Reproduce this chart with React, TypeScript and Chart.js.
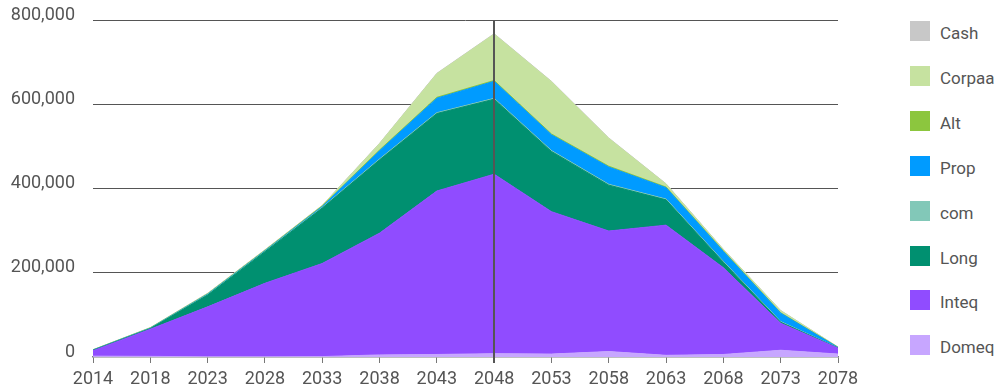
import { useEffect, useRef } from "react";
import { Chart, registerables } from "chart.js";

Chart.register(...registerables);

const years = ["2014", "2018", "2023", "2028", "2033", "2038", "2043", "2048", "2053", "2058", "2063", "2068", "2073", "2078"];

const domeq = [2000, 1500, 500, 500, 1000, 5000, 6000, 8000, 7000, 13000, 4000, 6000, 16000, 7000];
const inteq = [13000, 64500, 118500, 174500, 221000, 289000, 388000, 426000, 338000, 286000, 309000, 206000, 64000, 14000];
const longData = [1000, 1500, 28000, 75000, 131500, 174000, 184000, 178000, 143000, 109000, 60000, 13000, 2500, 500];
const com = [300, 500, 1000, 1000, 1500, 2000, 2000, 2000, 2000, 2000, 2000, 2000, 1500, 500];
const prop = [300, 500, 1000, 1000, 2000, 19500, 34500, 40500, 37500, 41000, 27000, 23500, 20000, 500];
const alt = [300, 500, 800, 1000, 1500, 2000, 2000, 2000, 2000, 2000, 1500, 1500, 1000, 500];
const corpaa = [300, 500, 1000, 1000, 1000, 15000, 56000, 110000, 124000, 66000, 7000, 3000, 5000, 500];
const cash = [200, 300, 500, 500, 500, 800, 1000, 1000, 1000, 1000, 800, 800, 500, 300];

const yTicks = [0, 200000, 400000, 600000, 800000];

const seriesNames = ["Domeq", "Inteq", "Long", "com", "Prop", "Alt", "Corpaa", "Cash"];
const seriesValues = [domeq, inteq, longData, com, prop, alt, corpaa, cash];
const seriesColors = ["#c7a6ff", "#904cff", "#009070", "#82c8b8", "#009bff", "#8cc63e", "#c6e2a0", "#c8c8c8"];

const markerYear = "2048";

const FONT = "Roboto, 'DejaVu Sans', sans-serif";

export default function App() {
  const canvasRef = useRef<HTMLCanvasElement | null>(null);

  useEffect(() => {
    const canvas = canvasRef.current;
    if (!canvas) return;

    const vline = {
      id: "vline",
      afterDatasetsDraw(chart: any) {
        const xs = chart.scales.x;
        const idx = years.indexOf(markerYear);
        const x = Math.round(xs.getPixelForValue(idx));
        const { top, bottom } = chart.chartArea;
        const ctx = chart.ctx;
        ctx.save();
        ctx.strokeStyle = "#555555";
        ctx.lineWidth = 2;
        ctx.beginPath();
        ctx.moveTo(x, top);
        ctx.lineTo(x, bottom + 6);
        ctx.stroke();
        ctx.restore();
      },
    };

    const chart = new Chart(canvas, {
      type: "line",
      data: {
        labels: years,
        datasets: seriesNames.map((name, i) => ({
          label: name,
          data: seriesValues[i],
          borderColor: seriesColors[i],
          backgroundColor: seriesColors[i],
          borderWidth: 1,
          pointRadius: 0,
          pointHoverRadius: 0,
          tension: 0,
          fill: i === 0 ? "origin" : "-1",
        })),
      },
      options: {
        responsive: false,
        animation: false,
        devicePixelRatio: 1,
        layout: { padding: { top: 20, right: 42, left: 0, bottom: 0 } },
        plugins: {
          legend: { display: false },
          tooltip: { enabled: false },
        },
        scales: {
          x: {
            type: "category",
            offset: false,
            afterFit(scale: any) {
              scale.height = 33;
              scale.paddingLeft = 0;
              scale.paddingRight = 0;
            },
            border: { display: true, color: "#808080", width: 1.5 },
            grid: {
              display: true,
              drawOnChartArea: false,
              drawTicks: true,
              tickLength: 6,
              color: "#777777",
            },
            ticks: {
              autoSkip: false,
              maxRotation: 0,
              padding: 6,
              color: "#555555",
              font: { family: FONT, size: 18 },
            },
          },
          y: {
            stacked: true,
            min: 0,
            max: 800000,
            afterFit(scale: any) {
              scale.width = 93;
              scale.paddingTop = 0;
              scale.paddingBottom = 0;
            },
            afterBuildTicks(scale: any) {
              scale.ticks = yTicks.map((v) => ({ value: v }));
            },
            border: { display: false },
            grid: {
              drawTicks: false,
              color: (ctx: any) => (ctx.tick && ctx.tick.value === 0 ? "rgba(0,0,0,0)" : "#555555"),
              lineWidth: 1,
            },
            ticks: {
              padding: 18,
              labelOffset: -5,
              color: "#555555",
              font: { family: FONT, size: 18 },
              callback: (v: any) => Number(v).toLocaleString("en-US"),
            },
          },
        },
      },
      plugins: [vline],
    });

    return () => chart.destroy();
  }, []);

  const legendOrder = seriesNames.map((_, i) => i).reverse();

  return (
    <div style={{ position: "fixed", left: 0, top: 0, width: 996, height: 390, background: "#ffffff", fontFamily: FONT }}>
      <canvas ref={canvasRef} width={880} height={390} style={{ position: "absolute", left: 0, top: 0, width: 880, height: 390 }} />
      {legendOrder.map((si, row) => (
        <div key={seriesNames[si]} style={{ position: "absolute", left: 910, top: 21 + row * 44.9, height: 20, display: "flex", alignItems: "center" }}>
          <div style={{ width: 20, height: 20, background: seriesColors[si] }} />
          <span style={{ marginLeft: 10, fontSize: 17, color: "#555555", lineHeight: "20px", position: "relative", top: 2 }}>{seriesNames[si]}</span>
        </div>
      ))}
    </div>
  );
}
